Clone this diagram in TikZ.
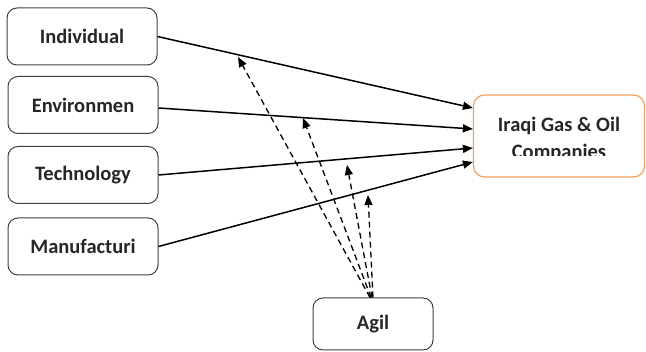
\documentclass[tikz,border=0pt]{standalone}
\usepackage{fontspec}
\setmainfont{Carlito}
\usetikzlibrary{arrows.meta}
\definecolor{boxorange}{HTML}{F0A060}
\tikzset{
  lbox/.style={draw=black!75, line width=1pt, rounded corners=10pt, minimum width=150pt, minimum height=57pt, font=\fontsize{20.5}{24}\selectfont\bfseries, text=black!85},
  rbox/.style={draw=boxorange, line width=1.2pt, rounded corners=11pt, minimum width=171pt, minimum height=82pt},
  sarrow/.style={line width=1.5pt, -{Triangle[length=10pt,width=8pt]}},
  darrow/.style={line width=1.3pt, dash pattern=on 6pt off 4pt, -{Triangle[length=10pt,width=8pt]}}
}
\begin{document}
\begin{tikzpicture}[x=1pt,y=-1pt]
\useasboundingbox (0,0) rectangle (646,352);
\node[lbox] (ind) at (82,36.5) {Individual};
\node[lbox] (env) at (83,105) {Environmen};
\node[lbox] (tec) at (83,175) {Technology};
\node[lbox] (man) at (83,246.5) {Manufacturi};
\node[rbox] (rb) at (559,136) {};
\begin{scope}
\clip (474,96) rectangle (644,156);
\node[font=\fontsize{20.5}{27}\selectfont\bfseries, text=black!85, align=center] (rbt) at (559,139) {Iraqi Gas \& Oil\\Companies};
\end{scope}
\node[lbox, minimum width=120pt, minimum height=52pt] (agil) at (373,324) {Agil};
\coordinate (d1) at (238,57);
\coordinate (d2) at (303,118);
\coordinate (d3) at (347,165);
\coordinate (d4) at (368,195);
\draw[sarrow] (ind.east) -- ([yshift=28pt]rb.west);
\draw[sarrow] ([yshift=-3pt]env.east) -- ([yshift=7pt]rb.west);
\draw[sarrow] (tec.east) -- ([yshift=-12pt]rb.west);
\draw[sarrow] (man.east) -- ([yshift=-26pt]rb.west);
\draw[darrow] ([xshift=-3pt]agil.north) -- (d1);
\draw[darrow] ([xshift=-2pt]agil.north) -- (d2);
\draw[darrow] ([xshift=-1pt]agil.north) -- (d3);
\draw[darrow] (agil.north) -- (d4);
\end{tikzpicture}
\end{document}
